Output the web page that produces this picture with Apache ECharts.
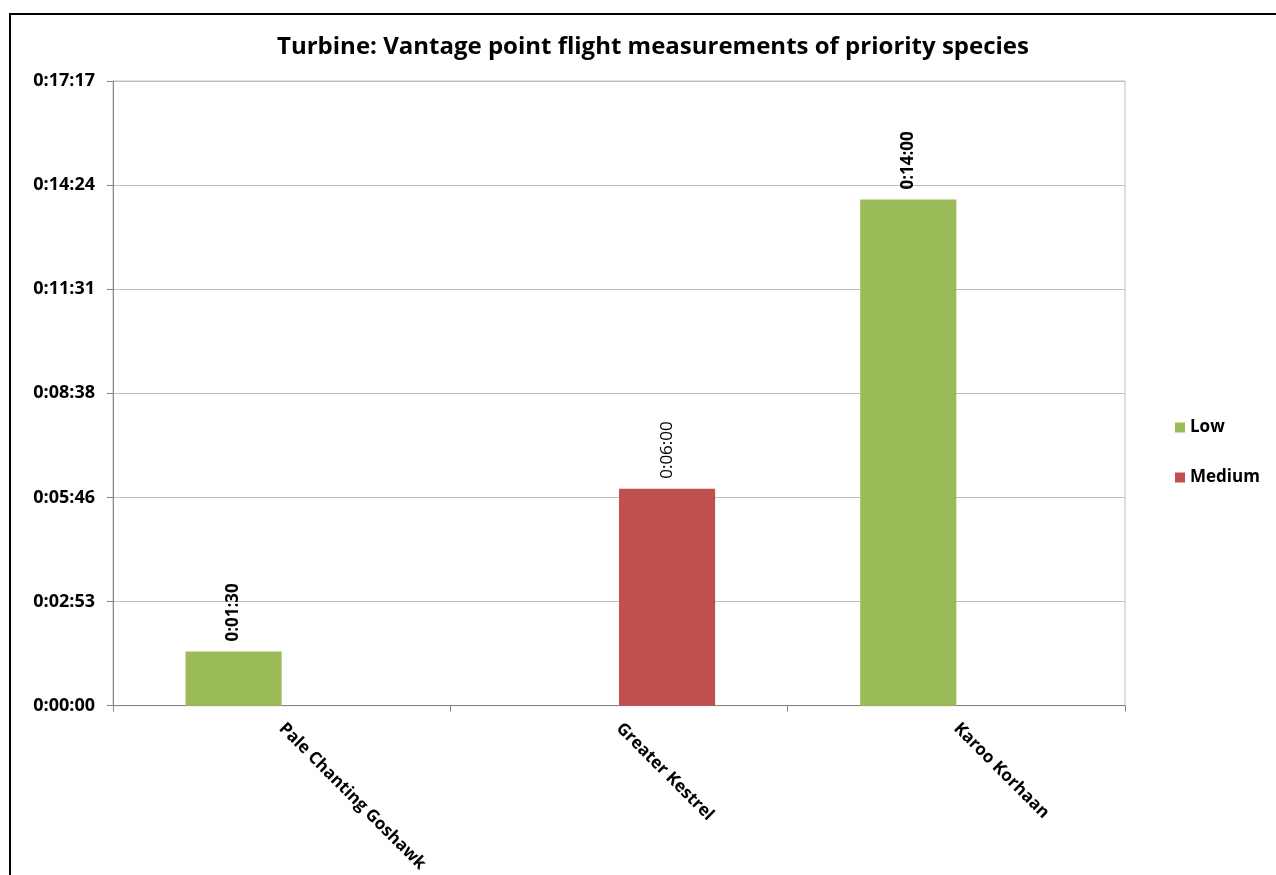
<!DOCTYPE html>
<html>
<head>
<meta charset="utf-8">
<script src="https://cdn.jsdelivr.net/npm/echarts@6/dist/echarts.min.js"></script>
<style>
  html, body { margin: 0; padding: 0; background: #fff; }
  #chart { width: 1276px; height: 875px; }
</style>
</head>
<body>
<div id="chart"></div>
<script>
// Species observed and their flight time (seconds) by risk category
const categories = ['Pale Chanting Goshawk', 'Greater Kestrel', 'Karoo Korhaan'];
const lowSeconds = [90, null, 840];
const mediumSeconds = [null, 360, null];
// Axis step is 0.002 day (172.8 s)
const yInterval = 172.8;
const yTickLabels = ['0:00:00', '0:02:53', '0:05:46', '0:08:38', '0:11:31', '0:14:24', '0:17:17'];

const FONT = '"Open Sans", Lato, sans-serif';

function hms(sec) {
  const s = Math.round(sec);
  const h = Math.floor(s / 3600);
  const m = Math.floor((s % 3600) / 60);
  const r = s % 60;
  return h + ':' + String(m).padStart(2, '0') + ':' + String(r).padStart(2, '0');
}

const chart = echarts.init(document.getElementById('chart'));

function valueLabel(bold) {
  return {
    show: true,
    position: 'top',
    rotate: 90,
    align: 'left',
    verticalAlign: 'middle',
    distance: 10,
    color: '#000',
    fontFamily: FONT,
    fontSize: 17,
    fontWeight: bold ? 'bold' : 'normal',
    formatter: p => hms(p.value)
  };
}

chart.setOption({
  backgroundColor: '#fff',
  animation: false,
  title: {
    text: 'Turbine: Vantage point flight measurements of priority species',
    left: 648,
    textAlign: 'center',
    top: 30,
    textStyle: { fontFamily: FONT, fontSize: 24, fontWeight: 'bold', color: '#000' }
  },
  graphic: [{
    type: 'rect',
    shape: { x: 10, y: 14, width: 1400, height: 1000 },
    style: { fill: 'none', stroke: '#000', lineWidth: 2 },
    silent: true,
    z: 100
  }],
  legend: {
    orient: 'vertical',
    left: 1170,
    top: 414,
    itemWidth: 10,
    itemHeight: 10,
    itemGap: 33,
    icon: 'rect',
    textStyle: { fontFamily: FONT, fontSize: 17, fontWeight: 'bold', color: '#000' },
    data: ['Low', 'Medium']
  },
  grid: {
    left: 113, right: 151, top: 81, bottom: 169,
    show: true, borderColor: '#bfbfbf', borderWidth: 1
  },
  xAxis: {
    type: 'category',
    data: categories,
    axisLine: { lineStyle: { color: '#868686' } },
    axisTick: { show: true, length: 6, lineStyle: { color: '#868686' } },
    axisLabel: {
      rotate: -45,
      interval: 0,
      margin: 20,
      fontFamily: FONT,
      fontSize: 17,
      fontWeight: 'bold',
      color: '#000'
    }
  },
  yAxis: {
    type: 'value',
    min: 0,
    max: yInterval * 6,
    interval: yInterval,
    axisLine: { show: true, lineStyle: { color: '#868686' } },
    axisTick: { show: true, length: 6, lineStyle: { color: '#868686' } },
    splitLine: { lineStyle: { color: '#bfbfbf' } },
    axisLabel: {
      margin: 18,
      fontFamily: FONT,
      fontSize: 18,
      fontWeight: 'bold',
      color: '#000',
      formatter: v => yTickLabels[Math.round(v / yInterval)] || ''
    }
  },
  series: [
    {
      name: 'Low',
      type: 'bar',
      data: lowSeconds,
      barGap: '0%',
      barCategoryGap: '43%',
      itemStyle: { color: '#9BBB59' },
      label: valueLabel(true)
    },
    {
      name: 'Medium',
      type: 'bar',
      data: mediumSeconds,
      barGap: '0%',
      barCategoryGap: '43%',
      itemStyle: { color: '#C0504D' },
      label: valueLabel(false)
    }
  ]
});
</script>
</body>
</html>
